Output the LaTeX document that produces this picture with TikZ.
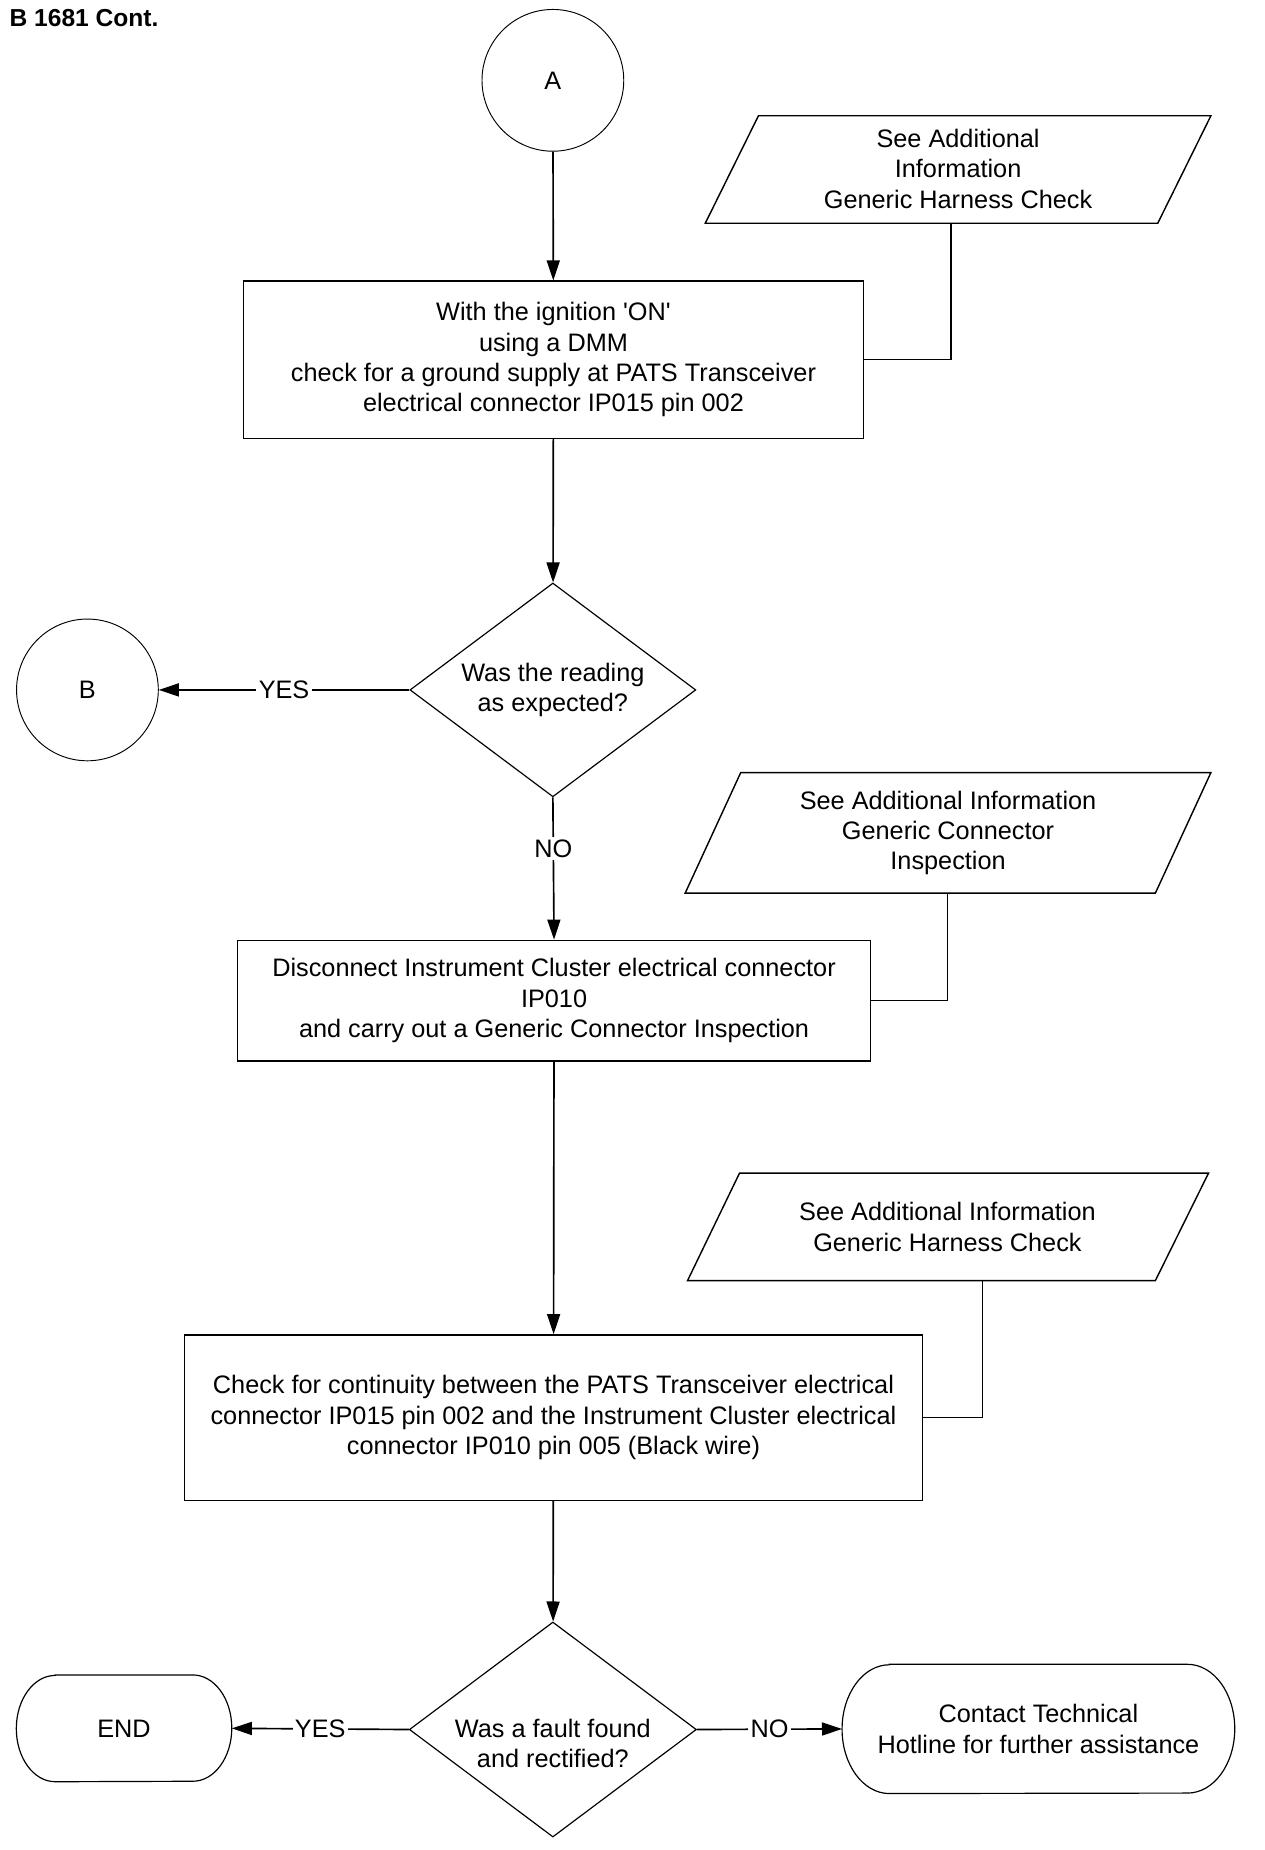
\documentclass[tikz,border=0pt]{standalone}
\usepackage{fontspec}
\setmainfont{Liberation Sans}
\usetikzlibrary{shapes.geometric,arrows.meta}
\newcommand\strq{\XeTeXglyph\XeTeXcharglyph"0027\relax}
\begin{document}
\begin{tikzpicture}[x=1pt,y=1pt,
  font=\fontsize{21.4}{25.7}\selectfont,
  box/.style={draw,line width=1.2pt,rectangle,inner sep=0pt,align=center},
  conn/.style={draw,line width=0.8pt,circle,inner sep=0pt,minimum size=120pt},
  dec/.style={draw,line width=1pt,diamond,inner sep=0pt,shape aspect=1.34,align=center},
  txt/.style={inner sep=0pt,align=center},
  flow/.style={line width=1.4pt,-{Triangle[length=17pt,width=11pt]}},
  side/.style={line width=1pt},
  lbl/.style={fill=white,inner sep=2pt},
  para/.style={line width=1.2pt,line join=miter},
  term/.style={line width=1pt}
]
\useasboundingbox (0,0) rectangle (1070,-1566);
\fill[white] (0,0) rectangle (1070,-1566);

\node[anchor=west,inner sep=0pt,font=\bfseries\fontsize{20.8}{24}\selectfont] (title) at (8,-15) {B 1681 Cont.};

% connectors A and B
\node[conn] (A) at (468,-68) {A};
\node[conn] (B) at (74,-584) {B};

% process boxes
\node[box,minimum width=525pt,minimum height=133pt] (b1) at (468.5,-304.5)
  {With the ignition \strq ON\strq\\using a DMM\\check for a ground supply at PATS Transceiver\\electrical connector IP015 pin 002};
\node[box,minimum width=536pt,minimum height=102pt] (b2) at (469,-847)
  {Disconnect Instrument Cluster electrical connector\\IP010\\and carry out a Generic Connector Inspection};
\node[box,minimum width=625pt,minimum height=140pt] (b3) at (468.5,-1200)
  {Check for continuity between the PATS Transceiver electrical\\connector IP015 pin 002 and the Instrument Cluster electrical\\connector IP010 pin 005 (Black wire)};

% decisions
\node[dec,minimum width=242pt,minimum height=181pt] (d1) at (468,-584) {Was the reading\\as expected?};
\node[dec,minimum width=243pt,minimum height=182pt] (d2) at (468,-1464) {};
\node[txt] (d2t) at (468,-1476) {Was a fault found\\and rectified?};

% parallelograms (additional information)
\draw[para] (642,-98) -- (1025,-98) -- (980,-189) -- (597,-189) -- cycle;
\node[txt] (p1) at (811,-143) {See Additional\\Information\\Generic Harness Check};
\coordinate (p1b) at (805,-189);

\draw[para] (627,-654) -- (1025,-654) -- (978,-756) -- (580,-756) -- cycle;
\node[txt] (p2) at (802.5,-705) {See Additional Information\\Generic Connector\\Inspection};
\coordinate (p2b) at (802,-756);

\draw[para] (626,-993) -- (1023,-993) -- (978,-1084) -- (582,-1084) -- cycle;
\node[txt] (p3) at (802,-1038.5) {See Additional Information\\Generic Harness Check};
\coordinate (p3b) at (832,-1084);

% terminals
\node[txt,minimum width=182pt,minimum height=90pt] (end) at (105,-1463) {END};
\draw[term] ([xshift=33pt]end.north west) -- ([xshift=-33pt]end.north east)
  arc (90:-90:33pt and 45pt) -- ([xshift=33pt]end.south west)
  arc (270:90:33pt and 45pt) -- cycle;
\node[txt,minimum width=332pt,minimum height=109pt] (ct) at (879,-1463.5) {Contact Technical\\Hotline for further assistance};
\draw[term] ([xshift=40pt]ct.north west) -- ([xshift=-40pt]ct.north east)
  arc (90:-90:40pt and 54.5pt) -- ([xshift=40pt]ct.south west)
  arc (270:90:40pt and 54.5pt) -- cycle;

% flow
\draw[flow] (A) -- (b1);
\draw[flow] (b1) -- (d1);
\draw[flow] (d1.west) -- node[lbl]{YES} (B);
\draw[flow] (d1.south) -- node[lbl,pos=0.36]{NO} (b2.north);
\draw[flow] (b2) -- (b3);
\draw[flow] (b3) -- (d2);
\draw[flow] (d2.west) -- node[lbl]{YES} (end.east);
\draw[flow] (d2.east) -- node[lbl]{NO} (ct.west);

% side links
\draw[side] (p1b) |- (b1.east);
\draw[side] (p2b) |- (b2.east);
\draw[side] (p3b) |- (b3.east);
\end{tikzpicture}
\end{document}
